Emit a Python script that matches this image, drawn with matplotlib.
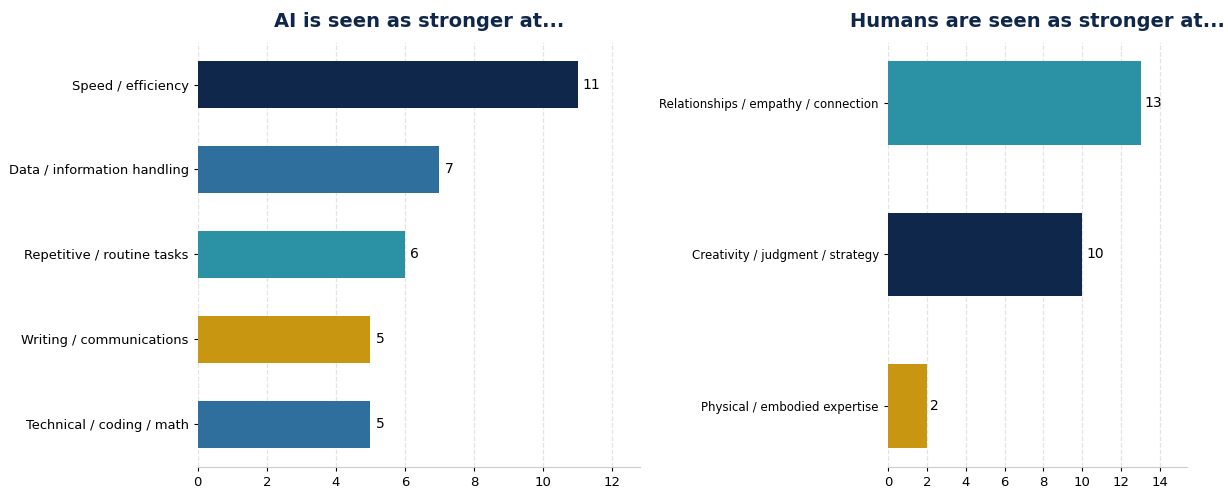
import matplotlib.pyplot as plt

ai_labels = ['Speed / efficiency', 'Data / information handling', 'Repetitive / routine tasks',
             'Writing / communications', 'Technical / coding / math']
ai_values = [11, 7, 6, 5, 5]
ai_colors = ['#10274c', '#2e6f9e', '#2b92a5', '#c89611', '#2e6f9e']

hu_labels = ['Relationships / empathy / connection', 'Creativity / judgment / strategy',
             'Physical / embodied expertise']
hu_values = [13, 10, 2]
hu_colors = ['#2b92a5', '#10274c', '#c89611']

fig = plt.figure(figsize=(12.28, 4.93), dpi=100)
ax1 = fig.add_axes([0.161, 0.053, 0.360, 0.862])
ax2 = fig.add_axes([0.723, 0.053, 0.244, 0.862])


def draw(ax, labels, values, colors, title, xmax, xticks, fs):
    ax.barh(labels, values, color=colors, height=0.55)
    ax.invert_yaxis()
    for i, v in enumerate(values):
        ax.text(v + xmax * 0.012, i, str(v), va='center', ha='left', fontsize=10)
    ax.set_xlim(0, xmax)
    ax.set_xticks(xticks)
    ax.tick_params(axis='y', labelsize=fs, length=3)
    ax.tick_params(axis='x', labelsize=9.5, length=3)
    ax.grid(axis='x', linestyle='--', color='#e3e3e3', linewidth=0.9)
    ax.set_axisbelow(True)
    for s in ['top', 'right', 'left']:
        ax.spines[s].set_visible(False)
    ax.spines['bottom'].set_color('#cccccc')
    ax.set_title(title, fontsize=14, fontweight='bold', color='#10274c', pad=11)


draw(ax1, ai_labels, ai_values, ai_colors, 'AI is seen as stronger at...', 12.8,
     range(0, 13, 2), 9.4)
draw(ax2, hu_labels, hu_values, hu_colors, 'Humans are seen as stronger at...', 15.4,
     range(0, 15, 2), 8.5)

fig.savefig('out.png', dpi=100)
